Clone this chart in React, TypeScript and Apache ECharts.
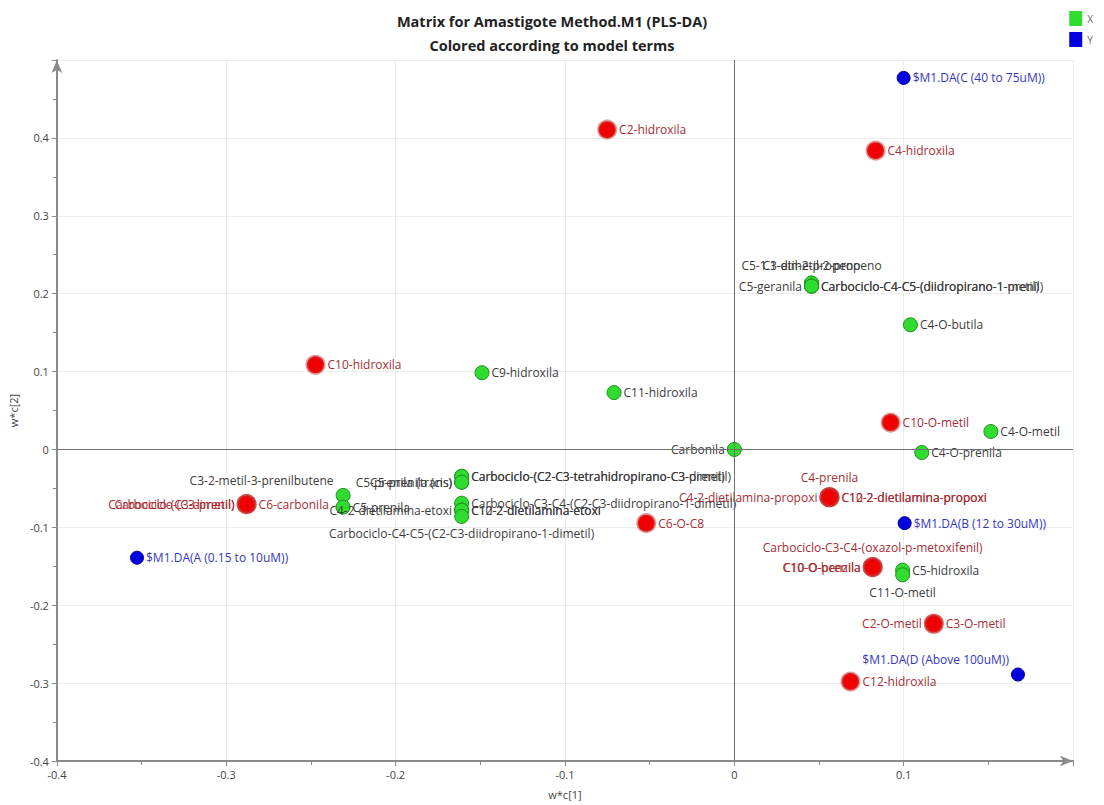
import React, { useEffect, useRef } from "react";
import * as echarts from "echarts";

// X terms (green)
const greenNames = [
  "C5-1.1-dimetil-2-propeno", "C3-etil-2-propeno", "C5-geranila",
  "Carbociclo-C4-C5-(diidropirano-1-prenil)", "Carbociclo-C4-C5-(diidropirano-1-metil)",
  "C4-O-butila", "C9-hidroxila", "C11-hidroxila", "Carbonila", "C4-O-metil", "C4-O-prenila",
  "Carbociclo-(C2-C3-tetrahidropirano-C3-dimetil)", "Carbociclo-(C2-C3-tetrahidropirano-C3-prenil)",
  "C5-prenila (trans)", "C5-prenila (cis)", "C3-2-metil-3-prenilbutene", "C5-prenila",
  "Carbociclo-C3-C4-(C2-C3-diidropirano-1-dimetil)", "C4-2-dietilamina-etoxi",
  "C10-2-dietilamina-etoxi", "C12-2-dietilamina-etoxi",
  "Carbociclo-C4-C5-(C2-C3-diidropirano-1-dimetil)", "C5-hidroxila", "C11-O-metil",
];
const greenX = [
  0.0456, 0.0456, 0.0456, 0.0456, 0.0456, 0.104, -0.149, -0.071, 0, 0.1515, 0.1107,
  -0.161, -0.161, -0.161, -0.161, -0.231, -0.231, -0.161, -0.161, -0.161, -0.161, -0.161,
  0.0994, 0.0994,
];
const greenY = [
  0.2136, 0.2136, 0.2097, 0.2097, 0.2097, 0.16, 0.0985, 0.073, 0, 0.023, -0.004,
  -0.0345, -0.0345, -0.042, -0.042, -0.059, -0.074, -0.069, -0.078, -0.078, -0.078, -0.086,
  -0.155, -0.161,
];
const greenLabelSide = [
  "top", "top", "left", "right", "right", "right", "right", "right", "left", "right", "right",
  "right", "right", "left", "left", "lefttop", "right", "right", "left", "right", "right", "bottom",
  "right", "bottom",
];

// Highlighted X terms (red)
const redNames = [
  "C2-hidroxila", "C4-hidroxila", "C10-hidroxila", "C10-O-metil",
  "Carbociclo-(C3-dimetil)", "Carbociclo-(C3-prenil)", "C6-carbonila", "C6-O-C8",
  "C4-prenila", "C4-2-dietilamina-propoxi", "C10-2-dietilamina-propoxi", "C12-2-dietilamina-propoxi",
  "Carbociclo-C3-C4-(oxazol-p-metoxifenil)", "C10-O-prenila", "C10-O-benzila",
  "C2-O-metil", "C3-O-metil", "C12-hidroxila",
];
const redX = [
  -0.0751, 0.0834, -0.2473, 0.0923, -0.288, -0.288, -0.288, -0.052,
  0.0562, 0.0562, 0.0562, 0.0562, 0.0817, 0.0817, 0.0817, 0.1178, 0.1178, 0.0686,
];
const redY = [
  0.4105, 0.3836, 0.1087, 0.0345, -0.0703, -0.0703, -0.0703, -0.0946,
  -0.0614, -0.0614, -0.0614, -0.0614, -0.151, -0.151, -0.151, -0.2238, -0.2238, -0.298,
];
const redLabelSide = [
  "right", "right", "right", "right", "left", "left", "right", "right",
  "top", "left", "right", "right", "top", "left", "left", "left", "right", "right",
];

// Y terms (blue)
const blueNames = [
  "$M1.DA(C (40 to 75uM))", "$M1.DA(B (12 to 30uM))",
  "$M1.DA(A (0.15 to 10uM))", "$M1.DA(D (Above 100uM))",
];
const blueX = [0.1, 0.1006, -0.3527, 0.1675];
const blueY = [0.477, -0.0946, -0.139, -0.289];
const blueLabelSide = ["right", "right", "right", "lefttop"];

const FONT = "'Open Sans', 'Noto Sans', sans-serif";

function buildData(names: string[], xs: number[], ys: number[], sides: string[]) {
  return names.map((n, i) => {
    const side = sides[i];
    const label: any =
      side === "lefttop"
        ? { position: "left", offset: [0, -15], distance: 2 }
        : { position: side, distance: side === "top" || side === "bottom" ? 4 : 2 };
    return { name: n, value: [xs[i], ys[i]], label };
  });
}

export default function App() {
  const ref = useRef<HTMLDivElement>(null);
  useEffect(() => {
    document.body.style.margin = "0";
    const chart = echarts.init(ref.current!, null, { renderer: "svg" });
    const axisCommon = {
      axisLine: {
        show: true,
        onZero: false,
        symbol: ["none", "arrow"],
        symbolSize: [8, 13],
        lineStyle: { color: "#8a8a8a", width: 2 },
      },
      axisTick: { show: true, length: 5, lineStyle: { color: "#8a8a8a" } },
      minorTick: { show: true, splitNumber: 2, length: 4, lineStyle: { color: "#8a8a8a" } },
      splitLine: { show: true, lineStyle: { color: "#ececec", width: 1 } },
      axisLabel: { color: "#444", fontSize: 11, fontFamily: FONT, showMaxLabel: false },
      nameTextStyle: { color: "#444", fontSize: 11, fontFamily: FONT },
    };
    chart.setOption({
      animation: false,
      backgroundColor: "#ffffff",
      title: {
        text: "Matrix for Amastigote Method.M1 (PLS-DA)\nColored according to model terms",
        left: "center",
        top: 4,
        textStyle: {
          fontSize: 14.5,
          fontWeight: "bold",
          color: "#222",
          lineHeight: 24,
          fontFamily: FONT,
        },
      },
      legend: {
        data: ["X", "Y"],
        orient: "vertical",
        right: 6,
        top: 6,
        itemWidth: 13,
        itemHeight: 15,
        itemGap: 6,
        icon: "rect",
        itemStyle: { borderWidth: 0 },
        textStyle: { color: "#666", fontSize: 10, fontFamily: FONT },
      },
      grid: { left: 56, right: 31, top: 60, bottom: 41 },
      xAxis: {
        type: "value",
        min: -0.4,
        max: 0.2,
        interval: 0.1,
        name: "w*c[1]",
        nameLocation: "middle",
        nameGap: 28,
        ...axisCommon,
        axisLabel: { ...axisCommon.axisLabel, margin: 8 },
      },
      yAxis: {
        type: "value",
        min: -0.4,
        max: 0.5,
        interval: 0.1,
        name: "w*c[2]",
        nameLocation: "middle",
        nameGap: 34,
        ...axisCommon,
        axisLabel: { ...axisCommon.axisLabel, margin: 8 },
      },
      series: [
        {
          name: "X",
          type: "scatter",
          symbolSize: 14,
          itemStyle: { color: "#2fdc2f", borderColor: "#1f8f1f", borderWidth: 1, opacity: 1 },
          label: { show: true, formatter: "{b}", color: "#3c3c3c", fontSize: 12, fontFamily: FONT },
          data: buildData(greenNames, greenX, greenY, greenLabelSide),
          markLine: {
            silent: true,
            symbol: "none",
            label: { show: false },
            lineStyle: { color: "#707070", width: 1, type: "solid" },
            data: [{ xAxis: 0 }, { yAxis: 0 }],
          },
          z: 3,
        },
        {
          name: "X terms",
          type: "scatter",
          symbolSize: 17,
          itemStyle: { color: "#f00000", borderColor: "rgba(200,50,50,0.5)", borderWidth: 3, opacity: 1 },
          label: { show: true, formatter: "{b}", color: "#a82c34", fontSize: 12, fontFamily: FONT },
          data: buildData(redNames, redX, redY, redLabelSide),
          z: 4,
        },
        {
          name: "Y",
          type: "scatter",
          symbolSize: 13,
          itemStyle: { color: "#0000e0", borderColor: "#000090", borderWidth: 1, opacity: 1 },
          label: { show: true, formatter: "{b}", color: "#3535c4", fontSize: 12, fontFamily: FONT },
          data: buildData(blueNames, blueX, blueY, blueLabelSide),
          z: 4,
        },
      ],
      color: ["#2fdc2f", "#f00000", "#0000e0"],
    });
    return () => chart.dispose();
  }, []);
  return <div ref={ref} style={{ width: 1104, height: 805 }} />;
}
